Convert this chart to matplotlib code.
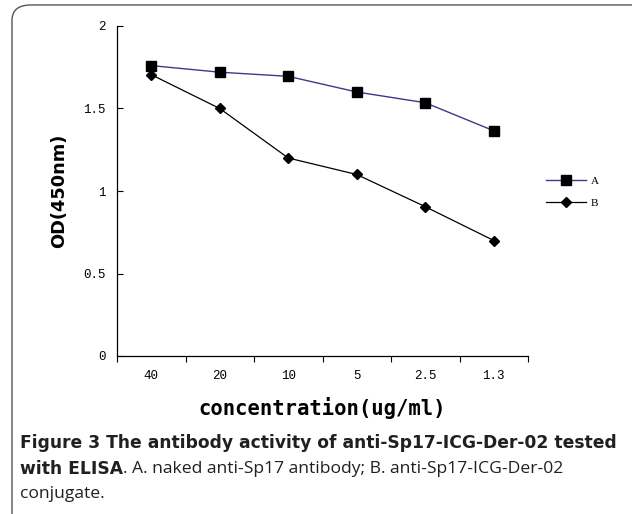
import matplotlib
matplotlib.use('Agg')
import matplotlib.pyplot as plt
from matplotlib.patches import FancyBboxPatch

# Data
concentrations = ['40', '20', '10', '5', '2.5', '1.3']
od_a = [1.76, 1.72, 1.695, 1.60, 1.535, 1.365]
od_b = [1.705, 1.50, 1.20, 1.10, 0.905, 0.70]
series_names = ['A', 'B']
yticks = [0, 0.5, 1, 1.5, 2]

fig = plt.figure(figsize=(6.32, 5.14), dpi=100)

# rounded frame around the figure panel
frame = FancyBboxPatch((12 / 632, -0.05), 1.1, 1.05 - 6 / 514 + 0.002,
                       boxstyle='round,pad=0,rounding_size=0.03',
                       transform=fig.transFigure, fill=False,
                       edgecolor='#555555', linewidth=1.0)
fig.patches.append(frame)

ax = fig.add_axes([117 / 632, 1 - 356 / 514, 411 / 632, 330 / 514])
x = range(len(concentrations))
ax.plot(x, od_a, color='#3a3a8c', lw=1.0, marker='s', ms=6.5,
        mfc='black', mec='black', label=series_names[0])
ax.plot(x, od_b, color='black', lw=0.9, marker='D', ms=5,
        mfc='black', mec='black', label=series_names[1])

ax.set_xlim(-0.5, 5.5)
ax.set_ylim(0, 2)
ax.set_xticks(list(x))
ax.set_xticklabels(concentrations, family='Liberation Mono', fontsize=9)
ax.set_xticks([i - 0.5 for i in range(len(concentrations) + 1)], minor=True)
ax.tick_params(axis='x', which='major', length=0, pad=10)
ax.tick_params(axis='x', which='minor', length=4, direction='out', width=0.8)
ax.set_yticks(yticks)
ax.set_yticklabels([f'{v:g}' for v in yticks], family='Liberation Mono', fontsize=9)
ax.tick_params(axis='y', direction='in', length=4, width=0.8, pad=8)
for side in ['top', 'right']:
    ax.spines[side].set_visible(False)
for side in ['left', 'bottom']:
    ax.spines[side].set_linewidth(0.9)

ax.set_ylabel('OD(450nm)', fontsize=12.8, fontweight='bold', labelpad=11)
ax.set_xlabel('concentration(ug/ml)', family='DejaVu Sans Mono',
              fontsize=14.8, fontweight='bold', labelpad=11)

ax.legend(loc='center left', bbox_to_anchor=(1.02, 0.497), frameon=False,
          prop={'family': 'Liberation Serif', 'size': 8}, handlelength=3.6,
          handletextpad=0.4, labelspacing=1.15)

# caption
fs = 12.6
bold_font = 'DejaVu Sans'
bfs = 12.3
y1 = 1 - 443 / 514
y2 = 1 - 469 / 514
y3 = 1 - 494 / 514
fig.text(20 / 632, y1, 'Figure 3 The antibody activity of anti-Sp17-ICG-Der-02 tested',
         family=bold_font, fontsize=bfs, fontweight='bold', va='center', color='#231f20')
t = fig.text(20 / 632, y2, 'with ELISA', family=bold_font, fontsize=bfs,
             fontweight='bold', va='center', color='#231f20')
renderer = fig.canvas.get_renderer()
bb = t.get_window_extent(renderer)
fig.text(bb.x1 / fig.bbox.width, y2, '. A. naked anti-Sp17 antibody; B. anti-Sp17-ICG-Der-02',
         family='Open Sans', fontsize=fs, va='center', color='#231f20')
fig.text(20 / 632, y3, 'conjugate.', family='Open Sans', fontsize=fs,
         va='center', color='#231f20')

fig.savefig('out.png', dpi=100)
